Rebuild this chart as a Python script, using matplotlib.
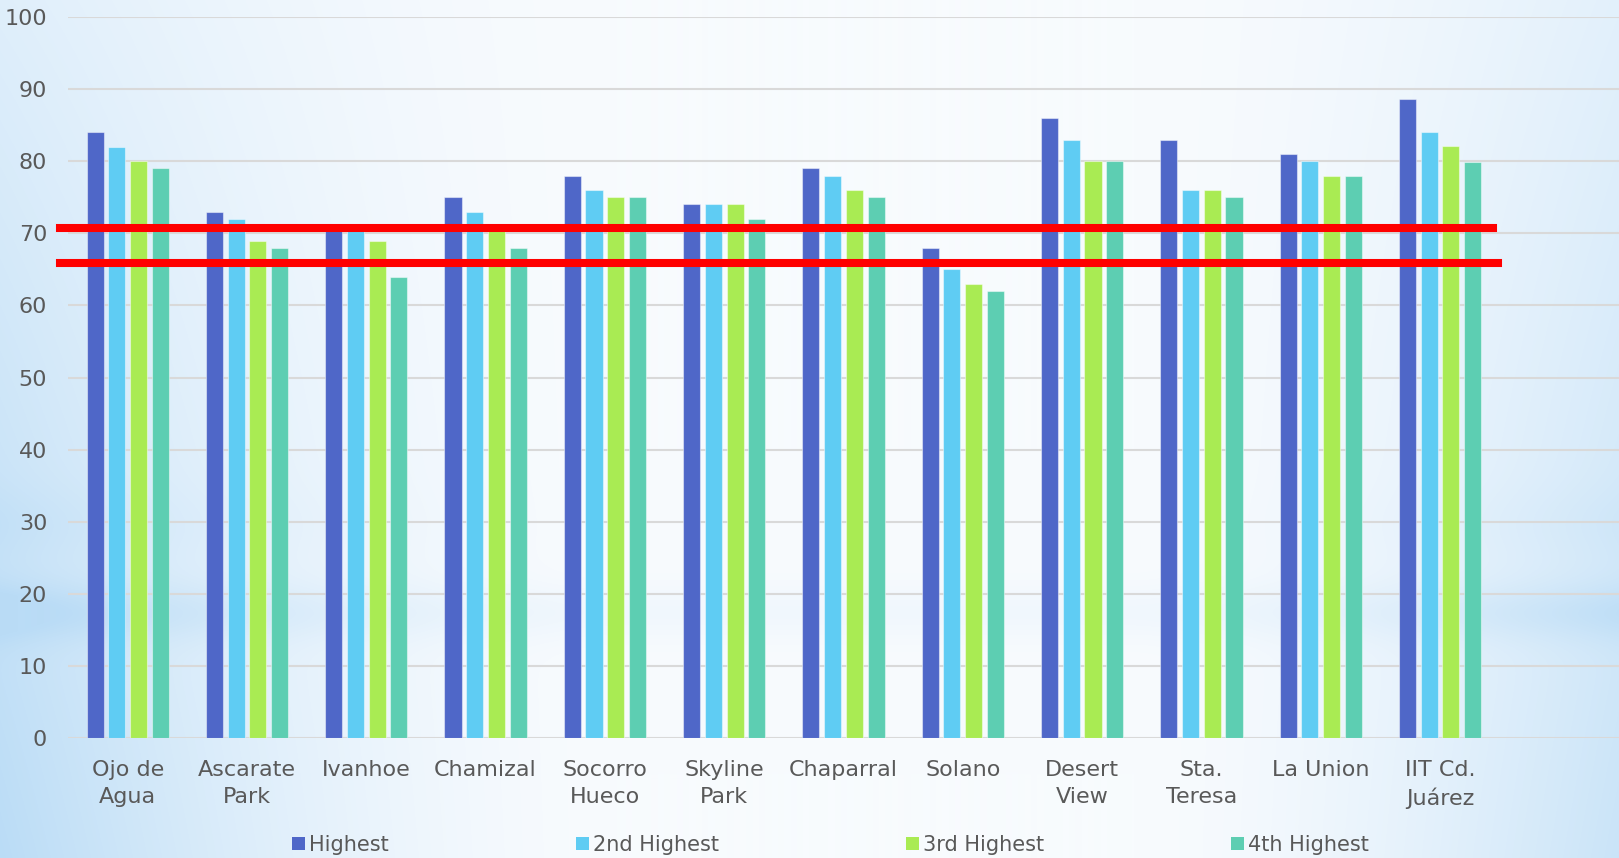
import matplotlib
matplotlib.use("Agg")
import matplotlib.pyplot as plt
import numpy as np
from matplotlib.patches import Patch

# sites and the four highest readings at each one
sites = ["Ojo de\nAgua", "Ascarate\nPark", "Ivanhoe", "Chamizal", "Socorro\nHueco",
         "Skyline\nPark", "Chaparral", "Solano", "Desert\nView", "Sta.\nTeresa",
         "La Union", "IIT Cd.\nJuárez"]
highest = [84, 73, 71, 75, 78, 74, 79, 68, 86, 83, 81, 88.6]
second = [82, 72, 71, 73, 76, 74, 78, 65, 83, 76, 80, 84]
third = [80, 69, 69, 71, 75, 74, 76, 63, 80, 76, 78, 82.1]
fourth = [79, 68, 64, 68, 75, 72, 75, 62, 80, 75, 78, 79.9]
series_names = ["Highest", "2nd Highest", "3rd Highest", "4th Highest"]
colors = ["#4F67C8", "#5FCCF3", "#A9EB53", "#5DCEB2"]
limits = [70.75, 65.9]  # the two red reference lines

W, H = 1619, 858
fig = plt.figure(figsize=(W / 100, H / 100), dpi=100)

# soft blue/white background like the slide
yy, xx = np.mgrid[0:H, 0:W]
u = xx / W
v = yy / H
wl = np.clip(1 - u / 0.38, 0, 1) ** 1.6 * (0.4 + 0.6 * v)
wr = np.clip(1 - (1 - u) / 0.3, 0, 1) ** 1.6 * (0.35 + 0.4 * v)
band = np.exp(-((yy - 612) / 28.0) ** 2) * (0.12 + 0.25 * (wl + wr))
band += np.exp(-((yy - 520) / 35.0) ** 2) * 0.12 * (wl + wr)
w = np.clip(wl + wr + band, 0, 1)[..., None]
white = np.array([248, 251, 254]) / 255
blue = np.array([186, 220, 246]) / 255
bg = white * (1 - w) + blue * w
bg_ax = fig.add_axes([0, 0, 1, 1])
bg_ax.imshow(bg, aspect="auto")
bg_ax.axis("off")

ax = fig.add_axes([68 / W, 1 - 738 / H, (W - 68) / W, (738 - 17) / H])
ax.set_facecolor("none")

x = np.arange(len(sites))
pitch = 0.182
width = 0.143
for i, vals in enumerate([highest, second, third, fourth]):
    ax.bar(x + (i - 1.5) * pitch, vals, width, color=colors[i],
           edgecolor=(1, 1, 1, 0.45), linewidth=0.8, label=series_names[i], zorder=3)

for k, lim in enumerate(limits):
    ax.axhline(lim, xmin=-0.005, xmax=0.919 + 0.003 * k, color="#FF0000",
               linewidth=5.8, clip_on=False, zorder=5)

ax.set_xlim(-0.5, 12.5)
ax.set_ylim(0, 100)
ax.set_yticks(range(0, 101, 10))
ax.set_xticks(x)
ax.set_xticklabels(sites, linespacing=1.4)
ax.grid(axis="y", color="#D9D9D9", linewidth=1.5, zorder=0)
ax.tick_params(axis="both", length=0, labelsize=16, labelcolor="#595959")
ax.tick_params(axis="y", pad=15)
ax.tick_params(axis="x", pad=16)
for s in ax.spines.values():
    s.set_visible(False)

handles = [Patch(facecolor=c) for c in colors]
fig.legend(handles, series_names, loc="center", bbox_to_anchor=(0.513, 1 - 845 / H),
           ncol=4, frameon=False, fontsize=15, labelcolor="#595959",
           handlelength=0.6, handleheight=0.6, handletextpad=0.2, columnspacing=9.0)

fig.savefig("out.png", dpi=100)
